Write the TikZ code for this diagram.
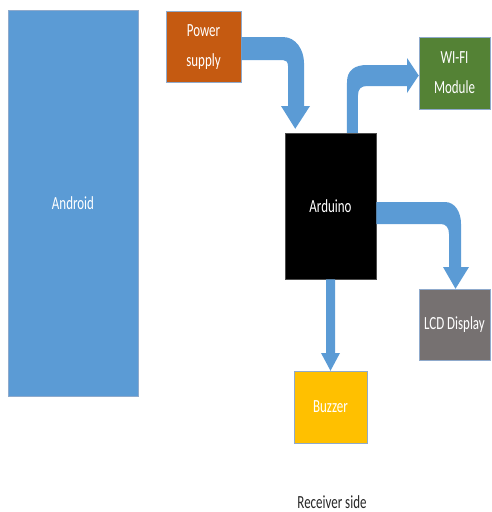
\documentclass[tikz,border=0pt]{standalone}
\usepackage{fontspec}
\setmainfont{Carlito}[FakeStretch=0.7]
\usetikzlibrary{calc}
\definecolor{abl}{HTML}{5B9BD5}
\definecolor{psor}{HTML}{C55A11}
\definecolor{wgr}{HTML}{548235}
\definecolor{lgr}{HTML}{767171}
\definecolor{bye}{HTML}{FFC000}
\definecolor{edge}{HTML}{8FAACC}
\tikzset{
  blk/.style={draw=edge, line width=0.5pt, inner sep=0pt, align=center,
    text=white, font=\fontsize{18.5}{30}\selectfont},
  arr/.style={fill=abl}
}
\begin{document}
\begin{tikzpicture}[x=1pt,y=-1pt]
\useasboundingbox (0,0) rectangle (491,512);
\node[blk, fill=abl, minimum width=130pt, minimum height=386pt] (android) at (73,203) {Android};
\node[blk, fill=psor, minimum width=75pt, minimum height=71pt] (ps) at (203.5,47) {Power\\supply};
\node[blk, fill=wgr, minimum width=71pt, minimum height=72pt] (wifi) at (454.5,73) {WI-FI\\Module};
\node[blk, fill=black, draw=black!70, minimum width=91pt, minimum height=146pt] (ard) at (330.5,206) {Arduino};
\node[blk, fill=lgr, minimum width=71pt, minimum height=71pt] (lcd) at (454.5,324.5) {LCD Display};
\node[blk, fill=bye, minimum width=73pt, minimum height=72pt] (buz) at (330.5,407) {Buzzer};
\node[font=\fontsize{18.5}{30}\selectfont, text=black!85, inner sep=0pt] (rs) at (332,502) {Receiver side};
% power supply -> arduino
\fill[arr] ($(ps.east)+(0,-10)$) -- (283,37) .. controls (296,37) and (304,50) .. (304,63)
  -- (304,106) -- (310,106) -- ($(ard.north west)+(10.5,-4)$) -- (281,106) -- (288,106)
  -- (288,66) .. controls (288,62) and (286,60) .. (283,60) -- ($(ps.east)+(0,13)$) -- cycle;
% arduino -> wifi
\fill[arr] ($(ard.north west)+(62,0)$) -- (347,82) .. controls (347,70) and (355,65) .. (367,65)
  -- (407,65) -- (407,58) -- ($(wifi.west)+(0,2.5)$) -- (407,93) -- (407,86) -- (367,86)
  .. controls (361,86) and (358,89) .. (358,95) -- ($(ard.north west)+(73,0)$) -- cycle;
% arduino -> lcd
\fill[arr] ($(ard.east)+(0,-4)$) -- (445,202) .. controls (455,202) and (461,212) .. (461,224)
  -- (461,267) -- (469,267) -- ($(lcd.north)+(1,0)$) -- (443,267) -- (449,267)
  -- (449,234) .. controls (449,228) and (446,224) .. (441,224) -- ($(ard.east)+(0,18)$) -- cycle;
% arduino -> buzzer
\fill[arr] ($(ard.south)+(-4.5,0)$) -- (326,353) -- (321,353) -- (buz.north) -- (340,353)
  -- (335,353) -- ($(ard.south)+(4.5,0)$) -- cycle;
\end{tikzpicture}
\end{document}
